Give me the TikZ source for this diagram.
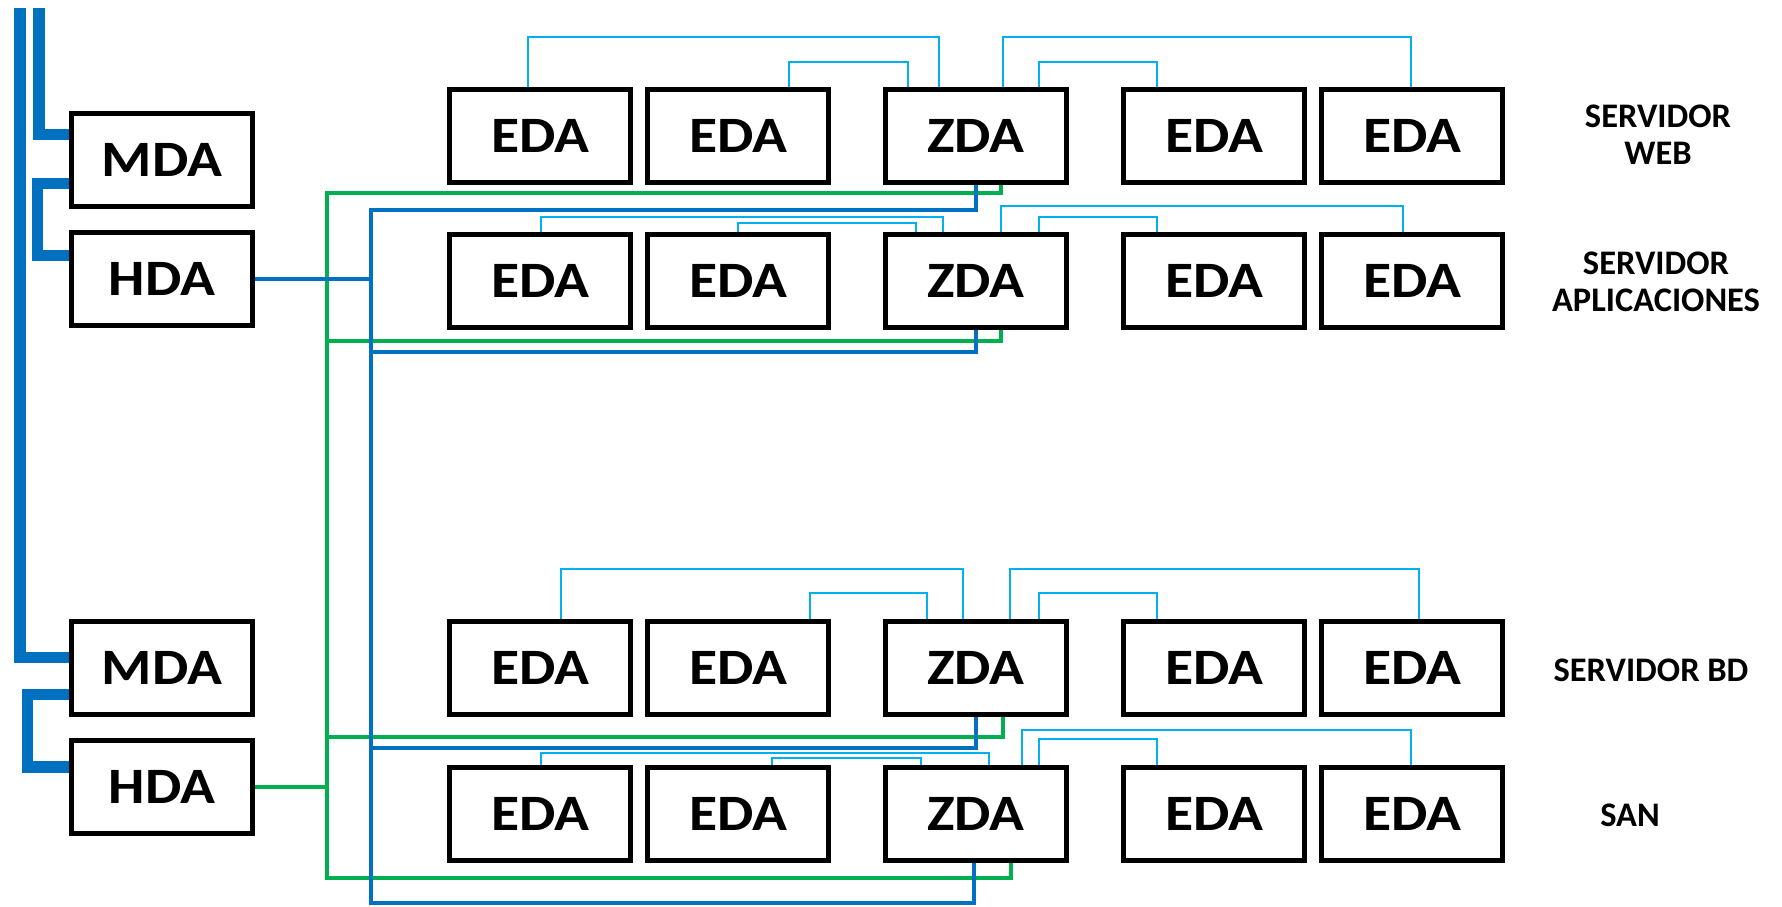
\documentclass[tikz,border=0pt]{standalone}
\usepackage{fontspec}
\setmainfont{Carlito}
\newfontfamily\boxfont{Carlito}[FakeStretch=1.13]
\usepackage{xcolor}
\usepackage{tikz}
\usetikzlibrary{calc}

\definecolor{busblue}{HTML}{0070C0}
\definecolor{busgreen}{HTML}{00B050}
\definecolor{lanblue}{HTML}{00B0F0}

\begin{document}
\begin{tikzpicture}[x=0.01cm, y=-0.01cm,
        dabox/.style={draw, line width=0.05cm, fill=white, minimum width=1.81cm,
            minimum height=0.93cm, inner sep=0pt,
            font=\boxfont\bfseries\fontsize{14.5}{17}\selectfont},
        lbl/.style={align=center, font=\bfseries\fontsize{9.8}{10.5}\selectfont},
        mbus/.style={busblue, line width=0.11cm},
        bbus/.style={busblue, line width=0.045cm},
        gbus/.style={busgreen, line width=0.045cm},
        lan/.style={lanblue, line width=0.025cm}]
        \useasboundingbox (0, 0) rectangle (1782, 906);

        % distribuidores
        \node[dabox] (m1) at (162, 160) {MDA};
        \node[dabox] (h1) at (162, 279) {HDA};
        \node[dabox] (m2) at (162, 668) {MDA};
        \node[dabox] (h2) at (162, 787) {HDA};

        \node[dabox] (e1a) at (540, 136) {EDA};
        \node[dabox] (e1b) at (738, 136) {EDA};
        \node[dabox] (z1) at (976, 136) {ZDA};
        \node[dabox] (e1c) at (1214, 136) {EDA};
        \node[dabox] (e1d) at (1412, 136) {EDA};

        \node[dabox] (e2a) at (540, 281) {EDA};
        \node[dabox] (e2b) at (738, 281) {EDA};
        \node[dabox] (z2) at (976, 281) {ZDA};
        \node[dabox] (e2c) at (1214, 281) {EDA};
        \node[dabox] (e2d) at (1412, 281) {EDA};

        \node[dabox] (e3a) at (540, 668) {EDA};
        \node[dabox] (e3b) at (738, 668) {EDA};
        \node[dabox] (z3) at (976, 668) {ZDA};
        \node[dabox] (e3c) at (1214, 668) {EDA};
        \node[dabox] (e3d) at (1412, 668) {EDA};

        \node[dabox] (e4a) at (540, 814) {EDA};
        \node[dabox] (e4b) at (738, 814) {EDA};
        \node[dabox] (z4) at (976, 814) {ZDA};
        \node[dabox] (e4c) at (1214, 814) {EDA};
        \node[dabox] (e4d) at (1412, 814) {EDA};

        \node[lbl] (web) at (1658, 135) {SERVIDOR\\WEB};
        \node[lbl] (app) at (1656, 282) {SERVIDOR\\APLICACIONES};
        \node[lbl] (bd) at (1651, 670) {SERVIDOR BD};
        \node[lbl] (san) at (1630, 815) {SAN};

        % enlaces EDA - ZDA
        \draw[lan] ([xshift=-0.12cm]e1a.north) -- ++(0, -50) -| ([xshift=-0.37cm]z1.north);
        \draw[lan] ([xshift=0.51cm]e1b.north) -- ++(0, -25) -| ([xshift=-0.68cm]z1.north);
        \draw[lan] ([xshift=0.27cm]z1.north) -- ++(0, -50) -| ([xshift=-0.01cm]e1d.north);
        \draw[lan] ([xshift=0.63cm]z1.north) -- ++(0, -25) -| ([xshift=-0.57cm]e1c.north);

        \draw[lan] ([xshift=0.01cm]e2a.north) -- ++(0, -15) -| ([xshift=-0.33cm]z2.north);
        \draw[lan] (e2b.north) -- ++(0, -9) -| ([xshift=-0.60cm]z2.north);
        \draw[lan] ([xshift=0.25cm]z2.north) -- ++(0, -26) -| ([xshift=-0.09cm]e2d.north);
        \draw[lan] ([xshift=0.63cm]z2.north) -- ++(0, -15) -| ([xshift=-0.57cm]e2c.north);

        \draw[lan] ([xshift=0.21cm]e3a.north) -- ++(0, -50) -| ([xshift=-0.13cm]z3.north);
        \draw[lan] ([xshift=0.72cm]e3b.north) -- ++(0, -26) -| ([xshift=-0.49cm]z3.north);
        \draw[lan] ([xshift=0.34cm]z3.north) -- ++(0, -50) -| ([xshift=0.07cm]e3d.north);
        \draw[lan] ([xshift=0.63cm]z3.north) -- ++(0, -26) -| ([xshift=-0.57cm]e3c.north);

        \draw[lan] ([xshift=0.01cm]e4a.north) -- ++(0, -12) -| ([xshift=0.13cm]z4.north);
        \draw[lan] ([xshift=0.34cm]e4b.north) -- ++(0, -7) -| ([xshift=-0.55cm]z4.north);
        \draw[lan] ([xshift=0.46cm]z4.north) -- ++(0, -35) -| ([xshift=-0.01cm]e4d.north);
        \draw[lan] ([xshift=0.63cm]z4.north) -- ++(0, -26) -| ([xshift=-0.57cm]e4c.north);

        % troncal
        \coordinate (busA) at (20, 8);
        \coordinate (busB) at (39, 8);
        \draw[mbus] (busA) |- ([yshift=0.11cm]m2.west);
        \draw[mbus] (busB) |- ([yshift=0.25cm]m1.west);
        \draw[mbus] ([yshift=-0.23cm]m1.west) -- ++(-31, 0) |- ([yshift=0.23cm]h1.west);
        \draw[mbus] ([yshift=-0.26cm]m2.west) -- ++(-41, 0) |- ([yshift=0.20cm]h2.west);

        % cableado horizontal
        \coordinate (gtop) at (327, 193);
        \coordinate (gbot) at (327, 878);
        \coordinate (btop) at (371, 210);
        \coordinate (bbot) at (371, 903);

        \draw[gbus] ([xshift=0.25cm]z1.south) |- (gtop) -- (gbot) -| ([xshift=0.35cm]z4.south);
        \draw[gbus] ([xshift=0.25cm]z2.south) -- ++(0, 11) -| (gtop);
        \draw[gbus] ([xshift=0.27cm]z3.south) -- ++(0, 20) -| (gtop);
        \draw[gbus] (h2.east) -| (gtop);

        \draw[bbus] (z1.south) |- (btop) -- (bbot) -| ([xshift=-0.02cm]z4.south);
        \draw[bbus] (z2.south) -- ++(0, 22) -| (btop);
        \draw[bbus] (z3.south) -- ++(0, 31) -| (btop);
        \draw[bbus] (h1.east) -| (btop);
    \end{tikzpicture}
\end{document}
